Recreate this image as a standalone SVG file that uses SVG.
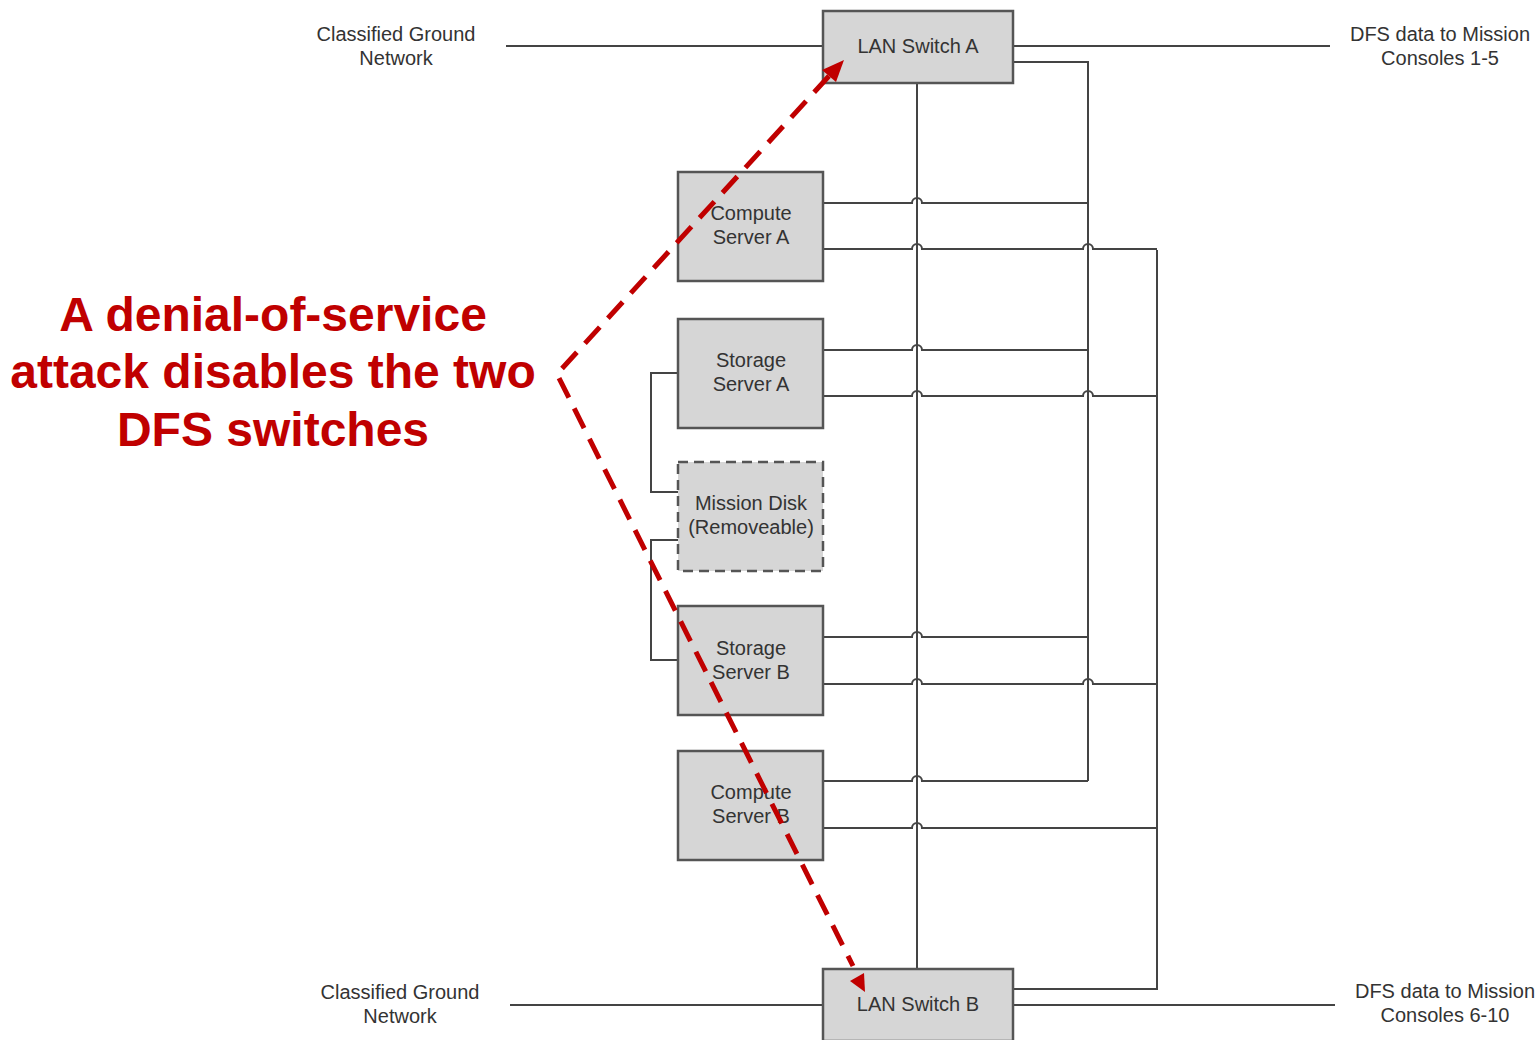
<svg xmlns="http://www.w3.org/2000/svg" width="1539" height="1040" viewBox="0 0 1539 1040">
  <style>
    .box { fill: #d6d6d6; stroke: #555; stroke-width: 2.5; }
    .dash { stroke-dasharray: 10 6; }
    .wire { fill: none; stroke: #444; stroke-width: 2; }
    .lbl { font-family: "Liberation Sans", Arial, sans-serif; font-size: 20px; fill: #333; text-anchor: middle; }
    .note { font-family: "Liberation Sans", Arial, sans-serif; font-size: 48px; font-weight: bold; fill: #c00000; text-anchor: middle; }
    .attack { fill: none; stroke: #c00000; stroke-width: 5; stroke-dasharray: 22 12; }
  </style>
  <rect width="1539" height="1040" fill="#fff"/>

  <!-- wiring between servers and switches -->
  <g id="connectors">
    <!-- external links -->
    <path class="wire" d="M506 46 H823"/>
    <path class="wire" d="M1013 46 H1330"/>
    <path class="wire" d="M510 1005 H823"/>
    <path class="wire" d="M1013 1005 H1335"/>
    <!-- trunk A-B -->
    <path class="wire" d="M917 83 V969"/>
    <!-- switch A bus -->
    <path class="wire" d="M1013 62 H1088 V781"/>
    <!-- switch B bus -->
    <path class="wire" d="M1013 989 H1157 V250"/>
    <!-- Compute Server A -->
    <path class="wire" d="M823 203 H912 a5 5 0 0 1 10 0 H1088"/>
    <path class="wire" d="M823 249 H912 a5 5 0 0 1 10 0 H1083 a5 5 0 0 1 10 0 H1157"/>
    <!-- Storage Server A -->
    <path class="wire" d="M823 350 H912 a5 5 0 0 1 10 0 H1088"/>
    <path class="wire" d="M823 396 H912 a5 5 0 0 1 10 0 H1083 a5 5 0 0 1 10 0 H1157"/>
    <!-- Storage Server B -->
    <path class="wire" d="M823 637 H912 a5 5 0 0 1 10 0 H1088"/>
    <path class="wire" d="M823 684 H912 a5 5 0 0 1 10 0 H1083 a5 5 0 0 1 10 0 H1157"/>
    <!-- Compute Server B -->
    <path class="wire" d="M823 781 H912 a5 5 0 0 1 10 0 H1088"/>
    <path class="wire" d="M823 828 H912 a5 5 0 0 1 10 0 H1157"/>
    <!-- mission disk links -->
    <path class="wire" d="M678 373 H651 V492 H678"/>
    <path class="wire" d="M678 540 H651 V660 H678"/>
  </g>

  <g id="switch-a">
    <rect class="box" x="823" y="11" width="190" height="72"/>
    <text class="lbl" x="918" y="53">LAN Switch A</text>
  </g>
  <g id="compute-a">
    <rect class="box" x="678" y="172" width="145" height="109"/>
    <text class="lbl" x="751" y="220">Compute</text>
    <text class="lbl" x="751" y="244">Server A</text>
  </g>
  <g id="storage-a">
    <rect class="box" x="678" y="319" width="145" height="109"/>
    <text class="lbl" x="751" y="367">Storage</text>
    <text class="lbl" x="751" y="391">Server A</text>
  </g>
  <g id="mission-disk">
    <rect class="box dash" x="678" y="462" width="145" height="109"/>
    <text class="lbl" x="751" y="510">Mission Disk</text>
    <text class="lbl" x="751" y="534">(Removeable)</text>
  </g>
  <g id="storage-b">
    <rect class="box" x="678" y="606" width="145" height="109"/>
    <text class="lbl" x="751" y="655">Storage</text>
    <text class="lbl" x="751" y="679">Server B</text>
  </g>
  <g id="compute-b">
    <rect class="box" x="678" y="751" width="145" height="109"/>
    <text class="lbl" x="751" y="799">Compute</text>
    <text class="lbl" x="751" y="823">Server B</text>
  </g>
  <g id="switch-b">
    <rect class="box" x="823" y="969" width="190" height="72"/>
    <text class="lbl" x="918" y="1011">LAN Switch B</text>
  </g>

  <g id="external-labels">
    <text class="lbl" x="396" y="41">Classified Ground</text>
    <text class="lbl" x="396" y="65">Network</text>
    <text class="lbl" x="1440" y="41">DFS data to Mission</text>
    <text class="lbl" x="1440" y="65">Consoles 1-5</text>
    <text class="lbl" x="400" y="999">Classified Ground</text>
    <text class="lbl" x="400" y="1023">Network</text>
    <text class="lbl" x="1445" y="998">DFS data to Mission</text>
    <text class="lbl" x="1445" y="1022">Consoles 6-10</text>
  </g>

  <!-- attack callout -->
  <g id="attack-callout">
    <text class="note" x="273" y="331">A denial-of-service</text>
    <text class="note" x="273" y="388">attack disables the two</text>
    <text class="note" x="273" y="446">DFS switches</text>
    <path class="attack" d="M829 76 L557 374 L853 966"/>
    <polygon fill="#c00000" points="844,60 836,82 822,70"/>
    <polygon fill="#c00000" points="850,981 864,973 865,992"/>
  </g>
</svg>
